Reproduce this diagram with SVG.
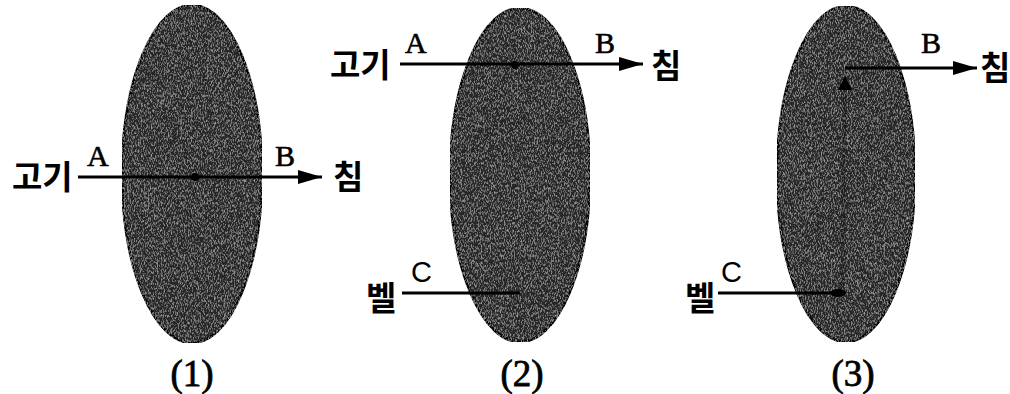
<svg xmlns="http://www.w3.org/2000/svg" width="1010" height="394" viewBox="0 0 1010 394">
<style>
.cell{fill:#262626;stroke:#000;stroke-width:2.5}
.ln{stroke:#000;stroke-width:3;fill:none}
.kr{font-family:"Noto Sans CJK KR",sans-serif;font-weight:bold;font-size:33px;fill:#000}
.lt{font-family:"Liberation Serif","Times New Roman",serif;font-size:30px;fill:#000;stroke:#000;stroke-width:0.6}
.lc{font-family:"Liberation Sans",Arial,sans-serif;font-size:29px;fill:#000}
.num{font-family:"Liberation Serif","Times New Roman",serif;font-size:37px;fill:#000;stroke:#000;stroke-width:0.8;text-anchor:middle}
.dot{fill:#000}
.streak{stroke:#000;stroke-width:4;opacity:0.22;fill:none}
</style>
<defs>
<filter id="grain" x="0" y="0" width="100%" height="100%">
<feTurbulence type="fractalNoise" baseFrequency="1.3 0.4" numOctaves="2" seed="5" result="n"/>
<feColorMatrix in="n" type="matrix" values="0 0 0 0 0.6  0 0 0 0 0.6  0 0 0 0 0.6  0 0 0 1.5 -0.7" result="g"/>
<feComposite in="g" in2="SourceGraphic" operator="in" result="gc"/>
<feMerge><feMergeNode in="SourceGraphic"/><feMergeNode in="gc"/></feMerge>
</filter>
<marker id="arr" viewBox="0 0 24 14" refX="24" refY="7" markerWidth="24" markerHeight="14" markerUnits="userSpaceOnUse" orient="auto">
<path d="M0,0 L24,7 L0,14 Z" fill="#000"/>
</marker>
</defs>
<g id="cell1">
<ellipse class="cell" cx="192" cy="174" rx="70" ry="169" filter="url(#grain)"/>
<circle class="dot" cx="195" cy="177" r="4"/>
<text class="num" x="192" y="386">(1)</text>
</g>
<g id="cell2">
<ellipse class="cell" cx="520" cy="175" rx="70" ry="167" filter="url(#grain)"/>
<circle class="dot" cx="515" cy="65" r="4"/>
<text class="num" x="522" y="386">(2)</text>
</g>
<g id="cell3">
<ellipse class="cell" cx="846" cy="174" rx="69" ry="168" filter="url(#grain)"/>
<line class="streak" x1="845" y1="92" x2="842" y2="288"/>
<path class="dot" d="M838,90 L845,76 L852,90 Z"/>
<ellipse class="dot" cx="838" cy="293" rx="8" ry="4"/>
<text class="num" x="853" y="386">(3)</text>
</g>
<g id="connectors">
<line class="ln" x1="78" y1="177" x2="322" y2="177" marker-end="url(#arr)"/>
<line class="ln" x1="400" y1="64" x2="643" y2="64" marker-end="url(#arr)"/>
<line class="ln" x1="402" y1="293" x2="520" y2="293"/>
<line class="ln" x1="845" y1="68" x2="977" y2="68" marker-end="url(#arr)"/>
<line class="ln" x1="718" y1="293" x2="840" y2="293"/>
</g>
<g id="labels">
<text class="kr" x="12" y="189">고기</text>
<text class="lt" x="87" y="166">A</text>
<text class="lt" x="275" y="166">B</text>
<text class="kr" x="333" y="189">침</text>
<text class="kr" x="330" y="77">고기</text>
<text class="lt" x="405" y="53">A</text>
<text class="lt" x="595" y="53">B</text>
<text class="kr" x="651" y="78">침</text>
<text class="kr" x="366" y="310">벨</text>
<text class="lc" x="411" y="282">C</text>
<text class="kr" x="685" y="310">벨</text>
<text class="lc" x="721" y="282">C</text>
<text class="lt" x="921" y="53">B</text>
<text class="kr" x="980" y="80">침</text>
</g>
</svg>
